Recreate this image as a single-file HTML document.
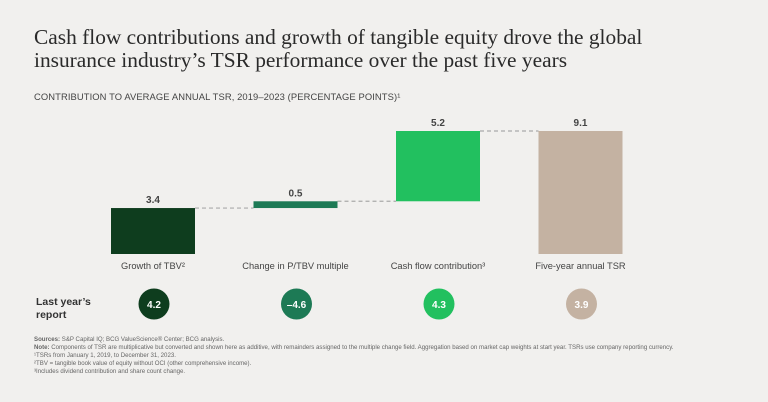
<!DOCTYPE html>
<html><head><meta charset="utf-8">
<style>
html,body{margin:0;padding:0;background:#f1f0ee;}
body{width:768px;height:402px;position:relative;overflow:hidden;font-family:"Liberation Sans",sans-serif;color:#333;}
.t{position:absolute;white-space:nowrap;}
</style></head><body>
<div class="t" style="left:34px;top:26px;font-family:'Liberation Serif',serif;font-size:21.4px;line-height:23px;color:#2a2a2a;">Cash flow contributions and growth of tangible equity drove the global<br>insurance industry’s TSR performance over the past five years</div>
<div class="t" style="left:34px;top:91px;font-size:9.4px;color:#444;letter-spacing:0.1px;">CONTRIBUTION TO AVERAGE ANNUAL TSR, 2019–2023 (PERCENTAGE POINTS)¹</div>
<svg id="chart" width="768" height="402" style="position:absolute;left:0;top:0"></svg>
<div class="t" style="left:36px;top:296px;font-size:10.5px;font-weight:bold;line-height:13px;color:#333;">Last year’s<br>report</div>
<div class="t" style="left:34px;top:336px;font-size:6.1px;line-height:8px;color:#666;">
<b>Sources:</b> S&amp;P Capital IQ; BCG ValueScience® Center; BCG analysis.<br>
<b>Note:</b> Components of TSR are multiplicative but converted and shown here as additive, with remainders assigned to the multiple change field. Aggregation based on market cap weights at start year. TSRs use company reporting currency.<br>
¹TSRs from January 1, 2019, to December 31, 2023.<br>
²TBV = tangible book value of equity without OCI (other comprehensive income).<br>
³Includes dividend contribution and share count change.</div>
<script>
const categories=["Growth of TBV²","Change in P/TBV multiple","Cash flow contribution³","Five-year annual TSR"];
const values=[3.4,0.5,5.2,9.1];
const isTotal=[false,false,false,true];
const lastYear=[4.2,-4.6,4.3,3.9];
const lastYearLabels=["4.2","–4.6","4.3","3.9"];
const colors=["#0e3d1e","#1d7a55","#22c05f","#c4b2a2"];
const svg=document.getElementById('chart');
const NS="http://www.w3.org/2000/svg";
const baseY=254,scale=123/9.1,x0=111,step=142.5,bw=84;
const y=v=>baseY-v*scale;
const xc=i=>x0+i*step;
function mk(t,a){const e=document.createElementNS(NS,t);for(const k in a)e.setAttribute(k,a[k]);svg.appendChild(e);return e;}
let cum=0;
categories.forEach((c,i)=>{
  let lo,hi;
  if(isTotal[i]){lo=0;hi=values[i];}else{lo=cum;hi=cum+values[i];cum=hi;}
  const r=mk('rect',{x:xc(i),y:y(hi),width:bw,height:y(lo)-y(hi),fill:colors[i]});
  
  
  if(i<categories.length-1){
    const l=mk('line',{x1:xc(i)+bw,x2:xc(i+1),y1:y(hi),y2:y(hi),stroke:'#aaa','stroke-width':1.2,'stroke-dasharray':'4,3'});
    
    
  }
  const v=mk('text',{x:xc(i)+bw/2,y:y(hi)-5,'text-anchor':'middle','font-size':10,'font-weight':'bold',fill:'#444','font-family':'Liberation Sans, sans-serif'});
  v.textContent=values[i].toFixed(1);
  
  
  const cl=mk('text',{x:xc(i)+bw/2,y:269,'text-anchor':'middle','font-size':9.3,fill:'#444','font-family':'Liberation Sans, sans-serif'});
  cl.textContent=c;
  
  
  const cx=xc(i)+bw/2+1;
  const b=mk('circle',{cx:cx,cy:304,r:15.5,fill:colors[i]});
  
  
  const bt=mk('text',{x:cx,y:308,'text-anchor':'middle','font-size':10,'font-weight':'bold',fill:'#fff','font-family':'Liberation Sans, sans-serif'});
  bt.textContent=lastYearLabels[i];
  
  
});
</script>
</body></html>
